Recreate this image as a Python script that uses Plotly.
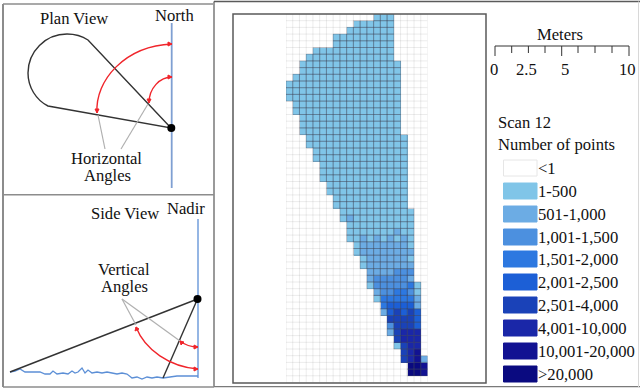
import plotly.graph_objects as go

W, H = 640, 389

# ---- data ----
class_labels = ["<1", "1-500", "501-1,000", "1,001-1,500", "1,501-2,000", "2,001-2,500",
                "2,501-4,000", "4,001-10,000", "10,001-20,000", ">20,000"]
class_colors = ["#FFFFFF", "#80C5E8", "#6CACE4", "#4C90DF", "#2D78E0", "#1C5FD6",
                "#1A42B8", "#1A27A8", "#121292", "#0A0A80"]
n_cols = 21
# row: (first column, classes of the filled cells from that column)
scan_rows = [
    (13, "111"), (10, "111111"), (9, "1111111"), (7, "111111111"), (7, "111111111"),
    (4, "111111111111"), (3, "1111111111111"), (2, "111111111111111"), (2, "111111111111111"),
    (1, "1111111111111111"), (0, "11111111111111111"), (0, "11111111111111111"),
    (0, "11111111111111111"), (1, "1111111111111111"), (1, "1111111111111111"),
    (2, "111111111111111"), (2, "111111111111111"), (2, "111111111111111"),
    (3, "111111111111111"), (3, "111111111111111"), (4, "11111111111111"), (4, "11111111111111"),
    (5, "1111111111111"), (5, "1111111111111"), (5, "1111111111111"),
    (6, "111111111111"), (6, "111111111111"), (7, "11111111111"), (7, "11111111111"),
    (8, "11111111111"), (8, "12111111111"),
    (9, "1111111111"), (9, "1111111211"), (9, "1121212121"),
    (10, "122222221"), (10, "122222222"), (11, "12222221"), (11, "12222222"),
    (12, "2222333"), (12, "2333332"), (12, "13333341"), (13, "2334431"), (13, "1444442"),
    (14, "455552"), (14, "256565"), (15, "66665"), (15, "36665"), (15, "26777"),
    (16, "6777"), (16, "1677"), (17, "678"), (17, "6782"), (18, "998"), (18, "998"),
]
n_rows = 55

# ---- diagram geometry ----
ground_x = [10, 15, 20, 25, 30, 35, 40, 45, 50, 53, 57, 63, 68, 72, 75, 78, 82, 85, 88, 92, 97, 102,
            107, 112, 117, 122, 127, 132, 137, 142, 147, 152, 157, 163, 170, 177, 183, 192, 198]
ground_y = [372, 371, 369, 372, 372, 372, 372, 374, 374, 371, 374, 373, 374, 371, 373, 372, 368, 373,
            370, 373, 372, 373, 372, 373, 374, 373, 374, 378, 377, 379, 377, 378, 377, 378, 377, 376, 376, 376, 376]
minor_ticks = [511.7, 528.4, 545, 578, 595, 612]
major_ticks = [495, 561.7, 629]
scale_labels = [("0", 494), ("2.5", 526), ("5", 565), ("10", 627)]
legend_y = [168, 191, 214, 237, 259, 282, 305, 328, 351, 374]

# ---- heat grid ----
z = [[0] * n_cols for _ in range(n_rows)]
for r, (first, cells) in enumerate(scan_rows):
    for k, ch in enumerate(cells):
        z[r][first + k] = int(ch)

colorscale = []
for i, c in enumerate(class_colors):
    colorscale += [[i / 10, c], [(i + 1) / 10, c]]

fig = go.Figure()

GX0, GX1, GY0, GY1 = 286, 427.5, 14, 382.5
fig.add_trace(go.Heatmap(z=z, x0=0, dx=1, y0=0, dy=1, zmin=-0.5, zmax=9.5, colorscale=colorscale,
                         showscale=False, xaxis="x2", yaxis="y2", hoverinfo="skip"))

# light grid over every cell
gx, gy = [], []
for c in range(n_cols + 1):
    gx += [c - 0.5, c - 0.5, None]
    gy += [-0.5, n_rows - 0.5, None]
for r in range(n_rows + 1):
    gx += [-0.5, n_cols - 0.5, None]
    gy += [r - 0.5, r - 0.5, None]
fig.add_trace(go.Scatter(x=gx, y=gy, mode="lines", line=dict(color="rgba(120,120,120,0.14)", width=1),
                         xaxis="x2", yaxis="y2", hoverinfo="skip"))
# darker edges around filled cells
ex, ey = [], []
for r in range(n_rows):
    for c in range(n_cols):
        if z[r][c] > 0:
            ex += [c - .5, c + .5, c + .5, c - .5, c - .5, None]
            ey += [r - .5, r - .5, r + .5, r + .5, r - .5, None]
fig.add_trace(go.Scatter(x=ex, y=ey, mode="lines", line=dict(color="rgba(60,70,90,0.28)", width=1),
                         xaxis="x2", yaxis="y2", hoverinfo="skip"))

shapes = []


def line(x0, y0, x1, y1, color, width):
    shapes.append(dict(type="line", xref="x", yref="y", x0=x0, y0=y0, x1=x1, y1=y1,
                       line=dict(color=color, width=width)))


def path(d, color, width, fill=None):
    shapes.append(dict(type="path", xref="x", yref="y", path=d,
                       line=dict(color=color, width=width),
                       fillcolor=fill if fill else "rgba(0,0,0,0)"))


def dot(cx, cy, r):
    shapes.append(dict(type="circle", xref="x", yref="y", x0=cx - r, x1=cx + r, y0=cy - r, y1=cy + r,
                       fillcolor="black", line=dict(color="black", width=0)))


FRAME = "#8C8C8C"
# panel frames
line(3, 4, 213, 4, FRAME, 1.5)
line(3, 4, 3, 387, FRAME, 2)
line(214, 1.5, 214, 387, "#9A9A9A", 2)
line(3, 194.7, 214, 194.7, FRAME, 1.6)
line(3, 387, 214, 387, FRAME, 1.5)
line(214, 1.5, 640, 1.5, "#5A5A5A", 1.6)
line(214, 386.7, 640, 386.7, "#7A7A7A", 1.2)
line(638.5, 1.5, 638.5, 387, "#D8D8D8", 1)
# main map frame
path("M 233 14 L 486 14 L 486 383 L 233 383 Z", "#5A5A5A", 1.5)

# plan view
INK = "#333333"
path("M 171 128 L 88 40 C 82 36 75 34 67 34 C 45.5 34 28 51.5 28 73 C 28 87 36 100 48 106 Z", INK, 1.4)
line(98, 115, 105, 149, "#B0B0B0", 1.2)
line(148, 104, 121, 149, "#B0B0B0", 1.2)
line(171.7, 23, 171.7, 188, "#7F9FD2", 1.8)
RED = "#F0252B"
path("M 172 44 C 125 46 95 80 97 113", RED, 1.4)
path("M 172 77 C 160 77 149 88 149 103", RED, 1.4)
path("M 172 44 L 168 42 L 168 46 Z", RED, 1, RED)
path("M 172 77 L 168 75 L 168 79 Z", RED, 1, RED)
path("M 97 113 L 95 109 L 99 109 Z", RED, 1, RED)
path("M 149 103 L 147 99 L 151 99 Z", RED, 1, RED)
dot(171.3, 128, 4)

# side view
line(197.5, 299, 10, 372, INK, 1.4)
line(197.5, 299, 163, 378, INK, 1.4)
line(122, 299, 136, 325, "#B0B0B0", 1.2)
line(122, 299, 180, 341, "#B0B0B0", 1.2)
line(198, 219, 198, 378, "#5C8FD6", 1.3)
path("M 136 327 C 145 350 170 367 198 369", RED, 1.4)
path("M 180 341 C 185 345 191 347 198 347", RED, 1.4)
path("M 198 369 L 194 367 L 194 371 Z", RED, 1, RED)
path("M 198 347 L 194 345 L 194 349 Z", RED, 1, RED)
path("M 136 327 L 135 331 L 139 329 Z", RED, 1, RED)
path("M 180 341 L 181 345 L 184 342 Z", RED, 1, RED)
dot(197.5, 299, 4)

fig.add_trace(go.Scatter(x=ground_x, y=ground_y, mode="lines", line=dict(color="#5C8FD6", width=1.3),
                         xaxis="x", yaxis="y", hoverinfo="skip"))

# scale bar
line(495, 46, 629, 46, "#333333", 1)
for t in major_ticks:
    line(t, 46, t, 56, "#333333", 1)
for t in minor_ticks:
    line(t, 46, t, 53, "#333333", 1)

# legend swatches
for y, color in zip(legend_y, class_colors):
    edge = "#E6E6E6" if color == "#FFFFFF" else color
    shapes.append(dict(type="rect", xref="x", yref="y", x0=503.5, x1=537, y0=y - 8, y1=y + 8,
                       fillcolor=color, line=dict(color=edge, width=1)))

annots = []


def text(x, y, s, size=16.6, anchor="center"):
    annots.append(dict(x=x, y=y, xref="x", yref="y", text=s, showarrow=False, xanchor=anchor, yanchor="middle",
                       font=dict(family="Liberation Serif", size=size, color="#111111")))


text(74, 18, "Plan View")
text(174, 15, "North")
text(106, 158, "Horizontal")
text(107, 175, "Angles")
text(125, 213, "Side View")
text(186, 208, "Nadir")
text(124, 269, "Vertical")
text(124, 286, "Angles")
text(560, 34, "Meters")
for s, x in scale_labels:
    text(x, 69, s)
text(496, 122, "Scan 12", anchor="left")
text(496, 144, "Number of points", anchor="left")
for y, s in zip(legend_y, class_labels):
    text(536, y + 0.5, s.replace("<", "&lt;"), anchor="left")

fig.update_layout(
    width=W, height=H, margin=dict(l=0, r=0, t=0, b=0), autosize=False,
    paper_bgcolor="white", plot_bgcolor="rgba(0,0,0,0)", showlegend=False,
    xaxis=dict(range=[0, W], visible=False, domain=[0, 1], fixedrange=True),
    yaxis=dict(range=[H, 0], visible=False, domain=[0, 1], fixedrange=True),
    xaxis2=dict(range=[-0.5, n_cols - 0.5], visible=False, domain=[GX0 / W, GX1 / W], anchor="y2", fixedrange=True),
    yaxis2=dict(range=[n_rows - 0.5, -0.5], visible=False, domain=[1 - GY1 / H, 1 - GY0 / H], anchor="x2", fixedrange=True),
    shapes=shapes, annotations=annots,
)
fig.write_html("out.html", config=dict(displayModeBar=False),
               post_script="document.body.style.margin='0';document.body.style.overflow='hidden';")
